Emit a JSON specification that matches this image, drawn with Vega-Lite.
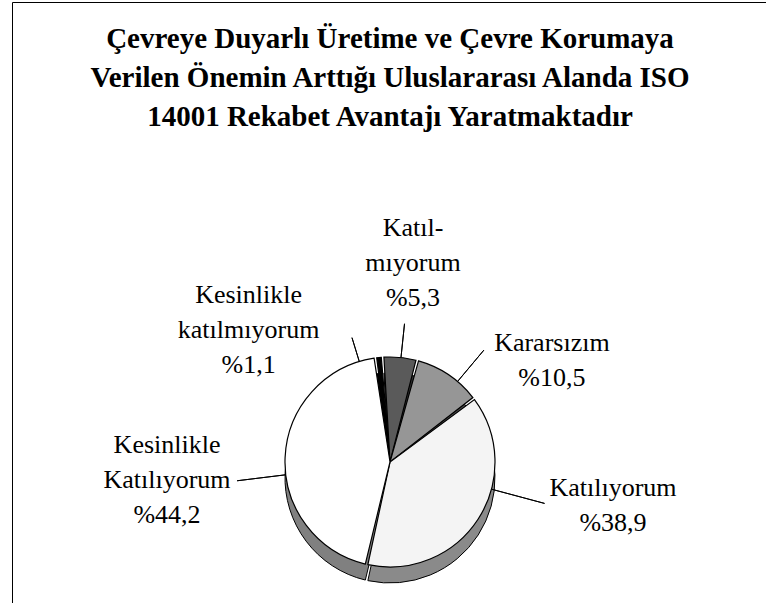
{
  "$schema": "https://vega.github.io/schema/vega-lite/v6.json",
  "width": 756,
  "height": 920,
  "autosize": {"type": "none"},
  "padding": {"left": 12, "top": 2, "right": 0, "bottom": 0},
  "background": "white",
  "view": {"stroke": "black", "strokeWidth": 1},
  "title": {
    "text": ["Çevreye Duyarlı Üretime ve Çevre Korumaya", "Verilen Önemin Arttığı Uluslararası Alanda ISO", "14001 Rekabet Avantajı Yaratmaktadır"],
    "font": "Liberation Serif",
    "fontSize": 29,
    "fontWeight": "bold",
    "color": "black",
    "lineHeight": 39,
    "anchor": "middle",
    "frame": "group",
    "baseline": "top",
    "offset": -130
  },
  "data": {
    "values": [
      {"cat": "Kesinlikle katılmıyorum", "value": 1.1, "ord": 1, "label": "Kesinlikle\nkatılmıyorum\n%1,1"},
      {"cat": "Katılmıyorum", "value": 5.3, "ord": 2, "label": "Katıl-\nmıyorum\n%5,3"},
      {"cat": "Kararsızım", "value": 10.5, "ord": 3, "label": "Kararsızım\n%10,5"},
      {"cat": "Katılıyorum", "value": 38.9, "ord": 4, "label": "Katılıyorum\n%38,9"},
      {"cat": "Kesinlikle Katılıyorum", "value": 44.2, "ord": 5, "label": "Kesinlikle\nKatılıyorum\n%44,2"}
    ]
  },
  "encoding": {
    "theta": {"field": "value", "type": "quantitative", "stack": true, "scale": {"domain": [0, 100], "range": [-0.1396, 6.1436]}},
    "order": {"field": "ord", "type": "quantitative"}
  },
  "layer": [
    {
      "mark": {"type": "arc", "radius": 105, "padAngle": 0.025, "stroke": "black", "strokeWidth": 1, "yOffset": 16},
      "encoding": {
        "fill": {"field": "cat", "type": "nominal", "legend": null,
          "scale": {"domain": ["Kesinlikle katılmıyorum", "Katılmıyorum", "Kararsızım", "Katılıyorum", "Kesinlikle Katılıyorum"],
                    "range": ["#000000", "#333333", "#4d4d4d", "#8a8a8a", "#808080"]}}
      }
    },
    {
      "mark": {"type": "arc", "radius": 105, "padAngle": 0.025, "stroke": "black", "strokeWidth": 1.2},
      "encoding": {
        "fill": {"field": "cat", "type": "nominal", "legend": null,
          "scale": {"domain": ["Kesinlikle katılmıyorum", "Katılmıyorum", "Kararsızım", "Katılıyorum", "Kesinlikle Katılıyorum"],
                    "range": ["#000000", "#5a5a5a", "#969696", "#f4f4f4", "#ffffff"]}}
      }
    },
    {
      "mark": {"type": "arc", "radius": 130, "radius2": 105, "theta2": 0, "thetaOffset": -0.2262, "theta2Offset": -0.1571, "stroke": "black", "strokeWidth": 1, "fillOpacity": 0},
      "encoding": {"opacity": {"condition": {"test": "datum.ord === 1", "value": 1}, "value": 0}}
    },
    {
      "mark": {"type": "arc", "radius": 139, "radius2": 105, "theta2": 0, "thetaOffset": -0.1578, "theta2Offset": 0.1752, "stroke": "black", "strokeWidth": 1, "fillOpacity": 0},
      "encoding": {"opacity": {"condition": {"test": "datum.ord === 2", "value": 1}, "value": 0}}
    },
    {
      "mark": {"type": "arc", "radius": 146, "radius2": 105, "theta2": 0, "thetaOffset": -0.2241, "theta2Offset": 0.4356, "stroke": "black", "strokeWidth": 1, "fillOpacity": 0},
      "encoding": {"opacity": {"condition": {"test": "datum.ord === 3", "value": 1}, "value": 0}}
    },
    {
      "mark": {"type": "arc", "radius": 160, "radius2": 105, "theta2": 0, "thetaOffset": -1.5338, "theta2Offset": 0.9104, "stroke": "black", "strokeWidth": 1, "fillOpacity": 0},
      "encoding": {"opacity": {"condition": {"test": "datum.ord === 4", "value": 1}, "value": 0}}
    },
    {
      "mark": {"type": "arc", "radius": 154, "radius2": 105, "theta2": 0, "thetaOffset": -1.5533, "theta2Offset": 1.2238, "stroke": "black", "strokeWidth": 1, "fillOpacity": 0},
      "encoding": {"opacity": {"condition": {"test": "datum.ord === 5", "value": 1}, "value": 0}}
    },
    {
      "mark": {"type": "text", "radius": 219, "thetaOffset": -0.597, "font": "Liberation Serif", "fontSize": 26, "lineBreak": "\n", "lineHeight": 35, "align": "center", "baseline": "middle", "color": "black"},
      "encoding": {"text": {"field": "label"}, "opacity": {"condition": {"test": "datum.ord === 1", "value": 1}, "value": 0}}
    },
    {
      "mark": {"type": "text", "radius": 235, "thetaOffset": 0.002, "font": "Liberation Serif", "fontSize": 26, "lineBreak": "\n", "lineHeight": 35, "align": "center", "baseline": "middle", "color": "black"},
      "encoding": {"text": {"field": "label"}, "opacity": {"condition": {"test": "datum.ord === 2", "value": 1}, "value": 0}}
    },
    {
      "mark": {"type": "text", "radius": 201, "thetaOffset": 0.344, "font": "Liberation Serif", "fontSize": 26, "lineBreak": "\n", "lineHeight": 35, "align": "center", "baseline": "middle", "color": "black"},
      "encoding": {"text": {"field": "label"}, "opacity": {"condition": {"test": "datum.ord === 3", "value": 1}, "value": 0}}
    },
    {
      "mark": {"type": "text", "radius": 224.5, "thetaOffset": -0.458, "font": "Liberation Serif", "fontSize": 26, "lineBreak": "\n", "lineHeight": 35, "align": "center", "baseline": "middle", "color": "black"},
      "encoding": {"text": {"field": "label"}, "opacity": {"condition": {"test": "datum.ord === 4", "value": 1}, "value": 0}}
    },
    {
      "mark": {"type": "text", "radius": 223.6, "thetaOffset": 0.033, "font": "Liberation Serif", "fontSize": 26, "lineBreak": "\n", "lineHeight": 35, "align": "center", "baseline": "middle", "color": "black"},
      "encoding": {"text": {"field": "label"}, "opacity": {"condition": {"test": "datum.ord === 5", "value": 1}, "value": 0}}
    }
  ],
  "resolve": {"scale": {"fill": "independent"}}
}
